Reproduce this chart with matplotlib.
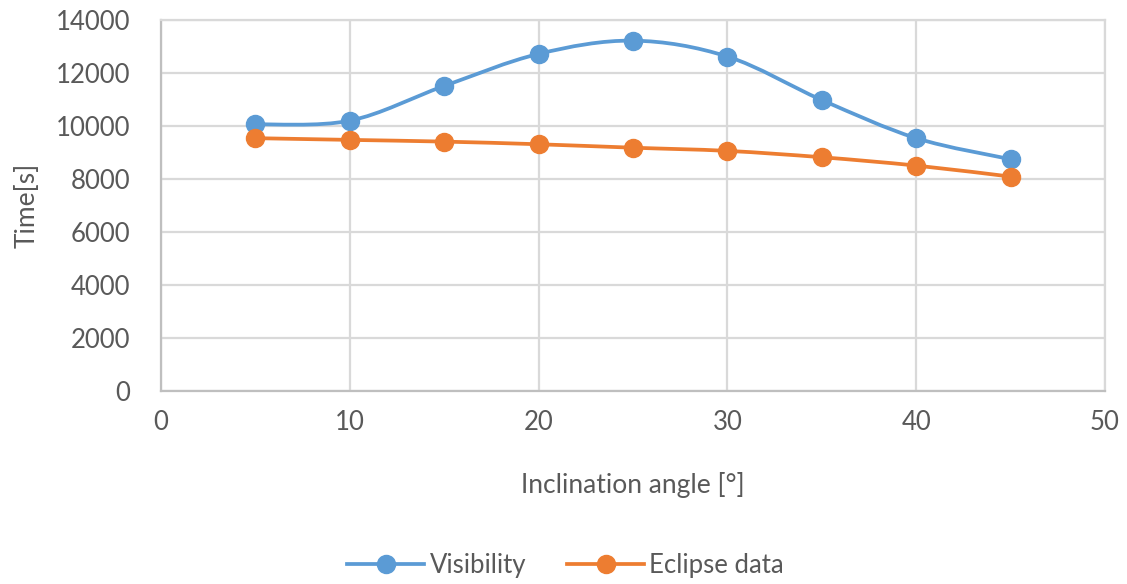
import matplotlib

matplotlib.use("Agg")
import matplotlib.pyplot as plt
from matplotlib.path import Path
from matplotlib.patches import PathPatch
from matplotlib.lines import Line2D

angle = [5, 10, 15, 20, 25, 30, 35, 40, 45]
visibility = [10060, 10200, 11510, 12720, 13220, 12620, 10980, 9540, 8745]
eclipse = [9540, 9475, 9410, 9310, 9180, 9060, 8820, 8505, 8090]

BLUE, ORANGE, GRID, INK = "#5b9bd5", "#ed7d31", "#d9d9d9", "#595959"
plt.rcParams["font.family"] = ["Lato", "DejaVu Sans"]


def smooth_path(x, y):
    # Excel-style smoothed line: cubic Bezier through every point
    verts, codes = [(x[0], y[0])], [Path.MOVETO]
    n = len(x)
    for i in range(n - 1):
        x0, y0 = (x[i - 1], y[i - 1]) if i > 0 else (x[i], y[i])
        x3, y3 = (x[i + 2], y[i + 2]) if i + 2 < n else (x[i + 1], y[i + 1])
        c1 = (x[i] + (x[i + 1] - x0) / 6, y[i] + (y[i + 1] - y0) / 6)
        c2 = (x[i + 1] - (x3 - x[i]) / 6, y[i + 1] - (y3 - y[i]) / 6)
        verts += [c1, c2, (x[i + 1], y[i + 1])]
        codes += [Path.CURVE4] * 3
    return Path(verts, codes)


fig = plt.figure(figsize=(11.27, 5.84), dpi=100)
ax = fig.add_axes([0.1429, 0.3305, 0.8376, 0.6353])

for ys, col in [(visibility, BLUE), (eclipse, ORANGE)]:
    ax.add_patch(PathPatch(smooth_path(angle, ys), fill=False, edgecolor=col, lw=2.7, zorder=3))
    ax.plot(angle, ys, ls="none", marker="o", ms=13, color=col, zorder=4)

ax.set_xlim(0, 50)
ax.set_ylim(0, 14000)
ax.set_xticks(range(0, 51, 10))
ax.set_yticks(range(0, 14001, 2000))
ax.grid(color=GRID, lw=1.6)
ax.set_axisbelow(True)
for s in ax.spines.values():
    s.set_color(GRID)
    s.set_linewidth(1.6)
ax.spines["left"].set_color("#bfbfbf")
ax.spines["bottom"].set_color("#bfbfbf")
ax.tick_params(length=0, labelsize=18.5, colors=INK)
ax.tick_params(axis="y", pad=22)
ax.tick_params(axis="x", pad=14)
ax.set_xlabel("Inclination angle [°]", fontsize=19, color=INK, labelpad=26)
ax.set_ylabel("Time[s]", fontsize=19, color=INK, labelpad=12)

handles = [Line2D([], [], color=BLUE, lw=2.7, marker="o", ms=13),
           Line2D([], [], color=ORANGE, lw=2.7, marker="o", ms=13)]
fig.legend(handles, ["Visibility", "Eclipse data"], loc="lower center",
           bbox_to_anchor=(0.502, -0.03), ncol=2, frameon=False, fontsize=18.5,
           handlelength=3.0, handletextpad=0.2, columnspacing=1.6, labelcolor=INK)

fig.savefig("out.png", dpi=100)
